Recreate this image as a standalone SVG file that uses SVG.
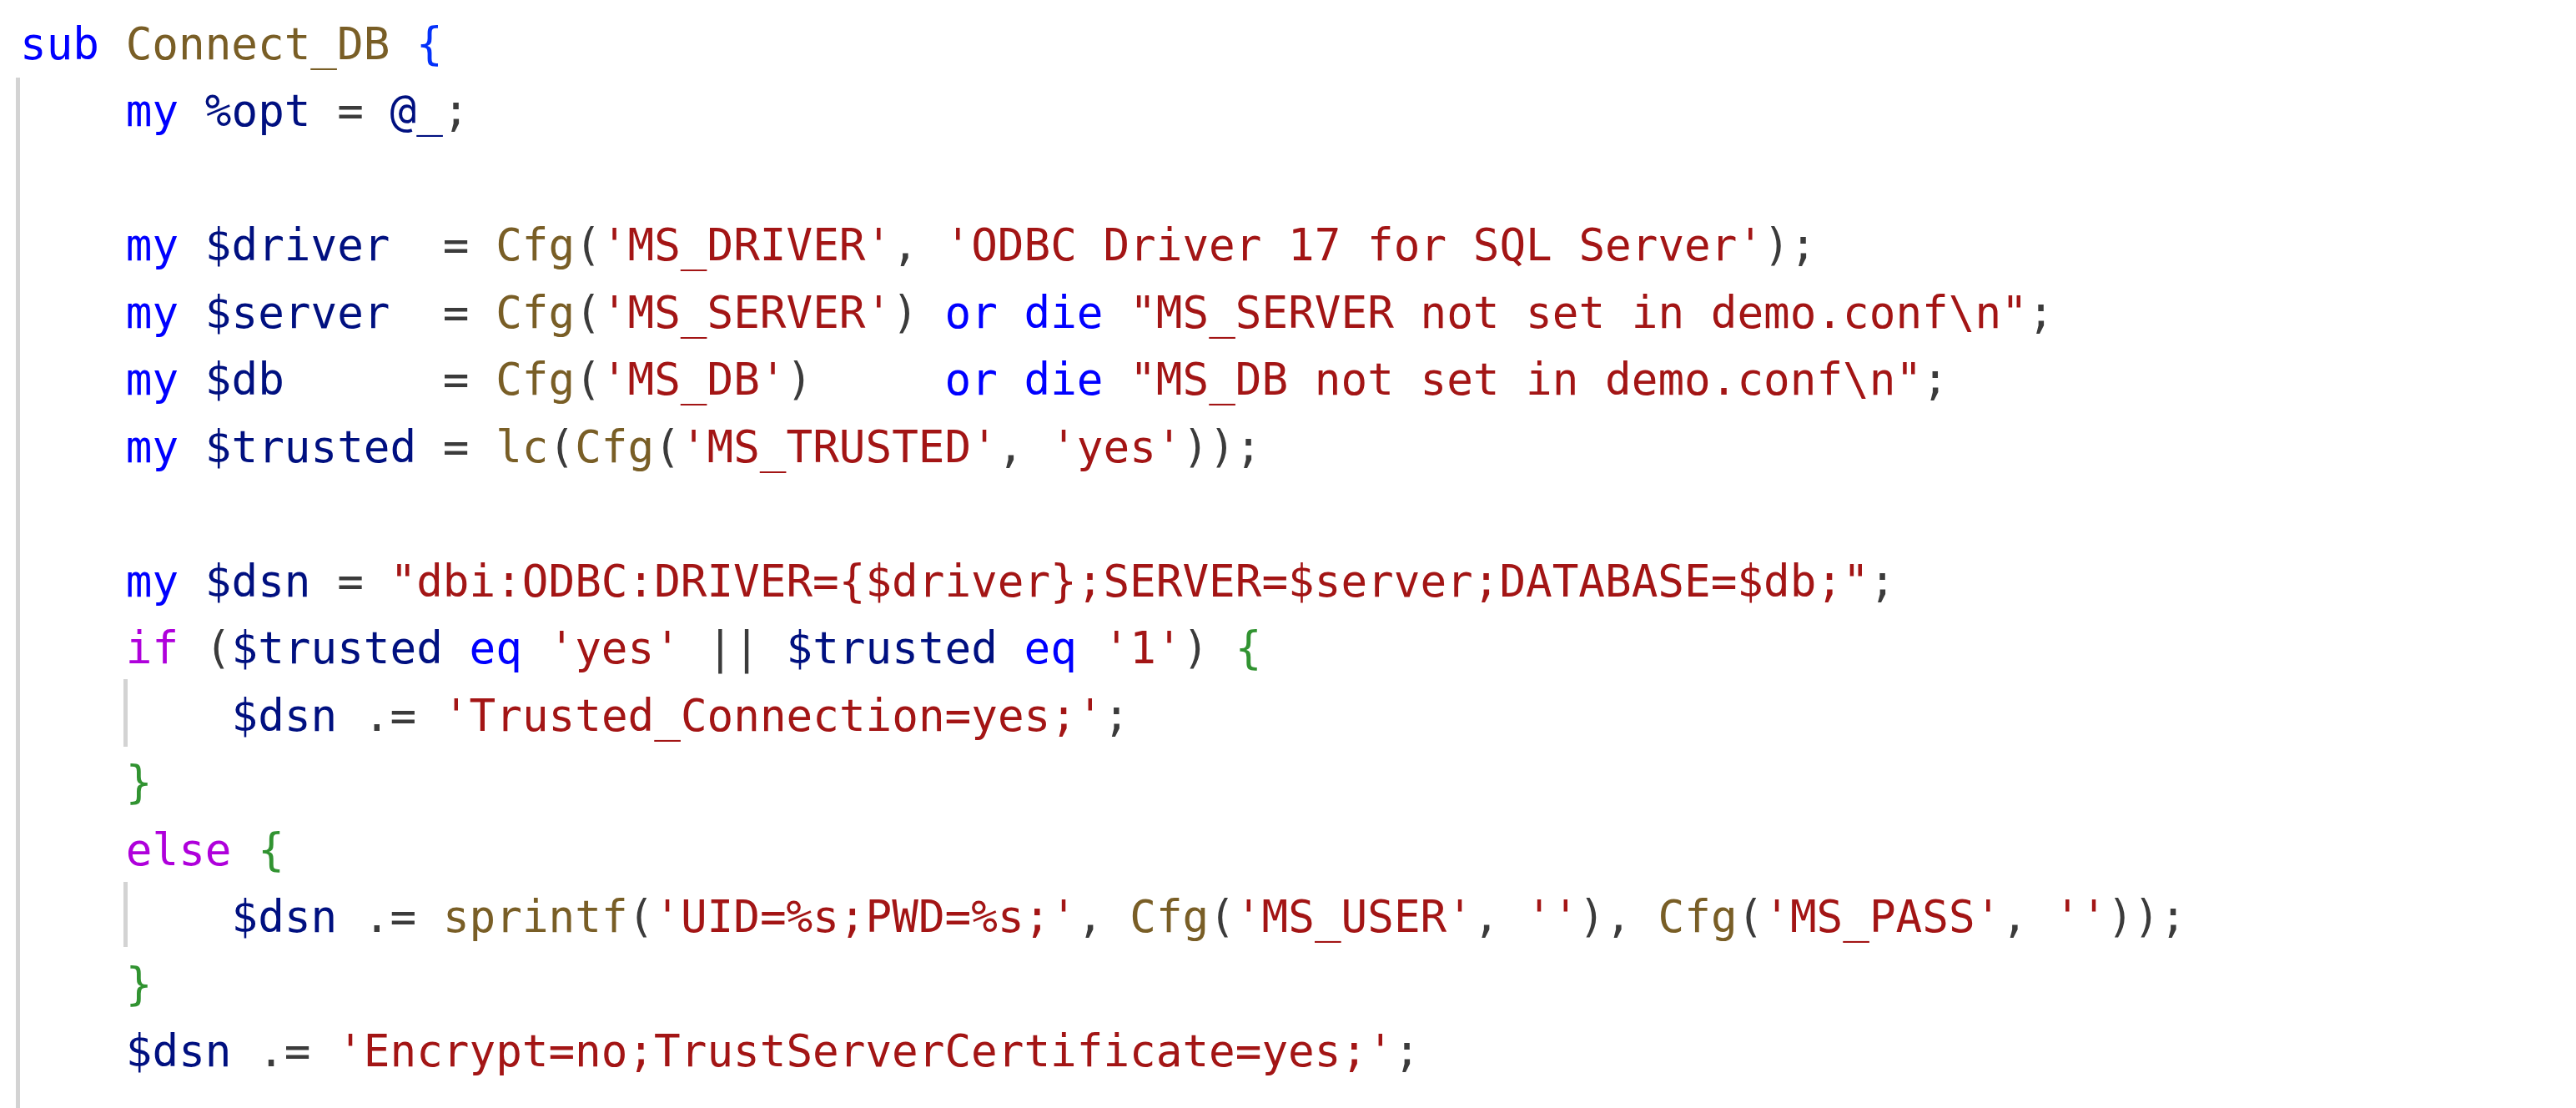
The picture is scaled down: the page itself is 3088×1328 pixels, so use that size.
<svg xmlns="http://www.w3.org/2000/svg" width="3088" height="1328" viewBox="0 0 3088 1328">
<style>
text{font-family:"DejaVu Sans Mono","Liberation Mono",monospace;font-size:52.6px;fill:#3B3B3B;white-space:pre}
.k{fill:#0000FF}.f{fill:#795E26}.v{fill:#001080}.s{fill:#A31515}.c{fill:#AF00DB}.b1{fill:#0431FA}.b2{fill:#319331}.o{fill:#3B3B3B}
.guide{fill:#D3D3D3}
</style>
<rect width="3088" height="1328" fill="#FFFFFF"/>
<g id="guides">
<rect class="guide" x="19" y="93" width="5" height="1235"/>
<rect class="guide" x="148" y="814" width="5" height="81"/>
<rect class="guide" x="148" y="1057" width="5" height="78"/>
</g>
<g id="code" xml:space="preserve">
<text x="24" y="70.7"><tspan class="k">sub</tspan> <tspan class="f">Connect_DB</tspan> <tspan class="b1">{</tspan></text>
<text x="150.8" y="151.2"><tspan class="k">my</tspan> <tspan class="v">%opt</tspan> = <tspan class="v">@_</tspan>;</text>
<text x="150.8" y="312.2"><tspan class="k">my</tspan> <tspan class="v">$driver</tspan>  = <tspan class="f">Cfg</tspan>(<tspan class="s">'MS_DRIVER'</tspan>, <tspan class="s">'ODBC Driver 17 for SQL Server'</tspan>);</text>
<text x="150.8" y="392.7"><tspan class="k">my</tspan> <tspan class="v">$server</tspan>  = <tspan class="f">Cfg</tspan>(<tspan class="s">'MS_SERVER'</tspan>) <tspan class="k">or</tspan> <tspan class="k">die</tspan> <tspan class="s">"MS_SERVER not set in demo.conf\n"</tspan>;</text>
<text x="150.8" y="473.2"><tspan class="k">my</tspan> <tspan class="v">$db</tspan>      = <tspan class="f">Cfg</tspan>(<tspan class="s">'MS_DB'</tspan>)     <tspan class="k">or</tspan> <tspan class="k">die</tspan> <tspan class="s">"MS_DB not set in demo.conf\n"</tspan>;</text>
<text x="150.8" y="553.7"><tspan class="k">my</tspan> <tspan class="v">$trusted</tspan> = <tspan class="f">lc</tspan>(<tspan class="f">Cfg</tspan>(<tspan class="s">'MS_TRUSTED'</tspan>, <tspan class="s">'yes'</tspan>));</text>
<text x="150.8" y="714.7"><tspan class="k">my</tspan> <tspan class="v">$dsn</tspan> = <tspan class="s">"dbi:ODBC:DRIVER={$driver};SERVER=$server;DATABASE=$db;"</tspan>;</text>
<text x="150.8" y="795.2"><tspan class="c">if</tspan> (<tspan class="v">$trusted</tspan> <tspan class="k">eq</tspan> <tspan class="s">'yes'</tspan> || <tspan class="v">$trusted</tspan> <tspan class="k">eq</tspan> <tspan class="s">'1'</tspan>) <tspan class="b2">{</tspan></text>
<text x="277.6" y="875.7"><tspan class="v">$dsn</tspan> .= <tspan class="s">'Trusted_Connection=yes;'</tspan>;</text>
<text x="150.8" y="956.2"><tspan class="b2">}</tspan></text>
<text x="150.8" y="1036.7"><tspan class="c">else</tspan> <tspan class="b2">{</tspan></text>
<text x="277.6" y="1117.2"><tspan class="v">$dsn</tspan> .= <tspan class="f">sprintf</tspan>(<tspan class="s">'UID=%s;PWD=%s;'</tspan>, <tspan class="f">Cfg</tspan>(<tspan class="s">'MS_USER'</tspan>, <tspan class="s">''</tspan>), <tspan class="f">Cfg</tspan>(<tspan class="s">'MS_PASS'</tspan>, <tspan class="s">''</tspan>));</text>
<text x="150.8" y="1197.7"><tspan class="b2">}</tspan></text>
<text x="150.8" y="1278.2"><tspan class="v">$dsn</tspan> .= <tspan class="s">'Encrypt=no;TrustServerCertificate=yes;'</tspan>;</text>
</g>
</svg>
